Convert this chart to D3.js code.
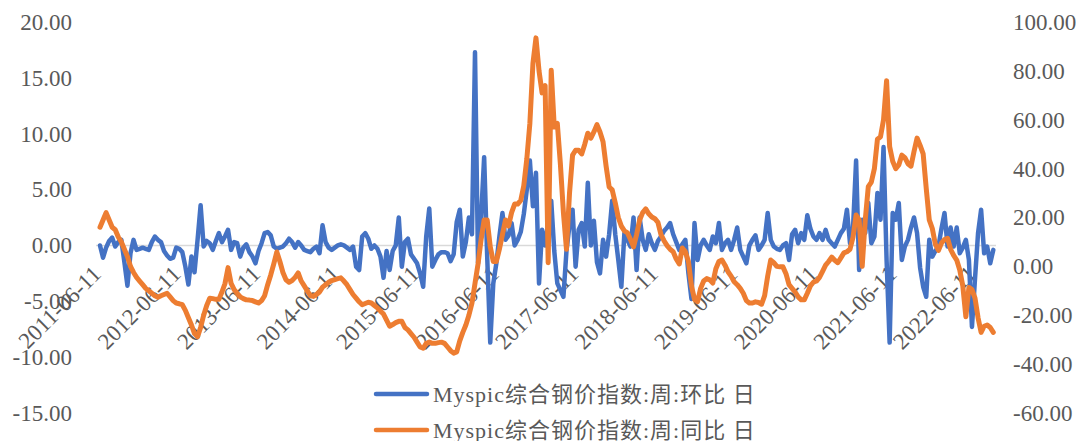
<!DOCTYPE html>
<html>
<head>
<meta charset="utf-8">
<title>Myspic综合钢价指数</title>
<script src="https://d3js.org/d3.v7.min.js"></script>
<style>
  body { margin: 0; background: #fff; }
  text { font-family: "Liberation Serif", "Noto Sans CJK SC", serif; fill: #595959; }
</style>
</head>
<body>
<script>
// Myspic综合钢价指数:周:环比 (left axis), biweekly readings from 2011-06-11
const weekChange = [
  0, -1.1, -0.2, 0.4, 0.7, -0.1, 0.3, 0.5, -1.5, -3.6,
  -0.7, 0.5, -0.4, -0.3, -0.2, -0.3, -0.4, 0.3, 0.8, 0.5,
  0.3, -0.5, -0.9, -1.2, -1.1, -0.2, -0.3, -0.6, -1.9, -3.5,
  -1, -2.4, 0.5, 3.6, -0.1, 0.4, 0.2, -0.4, 0.4, 1.1,
  0.3, 0.8, 1.4, -0.4, 0.3, 0.2, -1, -0.2, 0.1, -0.6,
  -1, -1.6, -0.5, 0.2, 1.1, 1.2, 0.9, -0.1, -0.3, -0.2,
  -0.1, 0.2, 0.6, 0.3, -0.2, 0.3, 0, -0.4, -0.5, -0.6,
  -0.3, -0.1, -0.7, 1.8, 0.3, -0.2, -0.4, -0.2, 0, 0.1,
  0, -0.2, -0.4, -0.1, -1.9, -2.2, 0.8, 1.1, 0.6, -0.3,
  0, -0.3, -1, -2.9, -0.5, -2.2, -0.5, 0, 2.5, -1.9,
  0.3, 0.6, -0.8, -1.2, -1.6, -2.5, -3.7, 0.8, 3.3, -1.9,
  -1.3, -0.8, -0.6, -0.6, -0.7, -1.4, -0.8, 2.1, 3.2, -1,
  0.3, 2.5, 1, 17.3, -1.6, 2.5, 7.9, -1, -8.7, -3.4,
  -1.6, 0.8, 2.9, 0.5, 0.9, 2, 0, 0.5, 1.2, 2.8,
  5, 7.6, 3.5, 6.5, -3.4, 1.4, 0, 2, 4, -0.5,
  -3.4, -4, -4.6, -0.5, 1.8, 3.2, -1.9, 1.4, 2, -0.1,
  5.6, 0, 2.2, -1.5, -2.5, 0.5, -1, 1, 4, 1,
  -1.3, -3.7, 1.1, 0.5, -0.1, 2.5, -2.2, 2.5, 0.5, -0.4,
  1, 0.2, -0.4, 0.4, 0.8, 1.3, 1.6, 2, 1, 0.3,
  -0.4, 0.1, 0.5, -2.5, -4.8, 2, -1.3, 0, 0.5, 0,
  -0.4, 0.8, 0.2, 2, -0.4, 0.2, 0.5, -0.4, 0.5, 1.6,
  -0.4, -1, -1.6, 0, 0.5, 0.9, -0.4, 0, 0.5, 2.9,
  0.5, -0.1, -0.3, -0.4, 0, 0.2, -1.3, 1, 1.4, 0.2,
  1.1, 0.5, 2.7, 1.5, 0.8, 0.5, 1.1, 0.5, 1.4, 0.5,
  0.2, -0.1, 0.5, 1.1, 1.5, 3.2, 0.2, 1.6, 7.6, -2.2,
  2.3, 1.1, 3.8, 0.2, 0.8, 4.7, 2.3, 8.8, -1.3, -8.7,
  2.9, 2.3, 3.8, -1.3, -0.1, 0.5, 1.6, 2.5, 1.1, -2,
  -3.7, -4.6, 0.5, -1, -0.5, -0.1, 1.5, 2.9, -0.1, 1.6,
  -0.1, 1.6, -0.7, -0.2, 0.5, -1.3, -7.3, -3, 1.1, 3.2,
  -0.7, -0.1, -1.6, -0.4
];

// Myspic综合钢价指数:周:同比 (right axis)
const yearChange = [
  16, 19, 22, 19, 16, 15, 12, 10, 7, 4,
  0, -2.5, -4.5, -6, -7.5, -9, -10, -11, -12, -12.6,
  -12, -11.5, -11, -12.5, -14, -15, -15.3, -15.7, -18, -21,
  -24, -27.5, -28.8, -25, -20, -16, -13, -13.2, -13.5, -13.5,
  -10.5, -7, -0.5, -7, -9.5, -11, -12.5, -13.2, -13.7, -13.8,
  -14, -14.5, -15, -14, -12, -7.5, -3.5, 1, 5.9, 2,
  -2.5, -5.5, -6.5, -5.8, -4.5, -2.7, -6, -8, -10, -12,
  -12.3, -11.5, -10.5, -8.5, -7.5, -6.5, -5.8, -5.4, -5, -4.7,
  -6, -7.5, -9.5, -11.5, -13, -14.5, -15.7, -15.2, -14.7, -15,
  -16, -17, -18.3, -19.5, -22, -24.5, -23.8, -23, -22.5, -22.5,
  -25, -26, -27.5, -29, -31, -33, -33.5, -31.5, -31, -31.5,
  -31.5, -31.2, -31, -31.5, -33, -34.5, -35.5, -35, -30.5, -27,
  -24, -20, -15, -7, 1, 11, 19, 19, 8, 2,
  2, 7, 13, 19, 16.5, 22, 25.5, 25.5, 27, 33,
  44, 58.6, 83, 93.5, 80, 71, 74, 1.5, 80.3, 57,
  58.5, 42, 22, 7, 30, 45.5, 47.5, 47.5, 46, 50,
  54.5, 52.5, 55, 58, 55, 51, 41, 32.5, 31.3, 26,
  20, 16.5, 14.5, 13.7, 11, 8, 13, 19, 22, 23.5,
  21.5, 20.2, 19.5, 18, 13, 10.5, 8.5, 7, 6, 3,
  1, 7.5, 6, 2, -8, -13.5, -14.5, -9, -6, -5,
  -5.5, -6.8, -1, 2, 2.6, 0.5, -2.2, -4, -6.3, -7.5,
  -9, -11, -14, -15, -15, -14.5, -14.8, -15.5, -12, -4,
  2.6, 1.5, 0, -0.2, -0.2, -3, -7.5, -9, -10.5, -12.5,
  -13.7, -13.7, -11, -8, -6.5, -6, -4.5, -2, 0.5, 2,
  3.8, 2.5, 1.5, 3.5, 5.5, 6, 7, 12, 21, 19,
  0, 19, 32.6, 34.5, 40, 52, 53, 60, 76, 49,
  43, 40, 41.5, 45.5, 44.5, 42, 41, 47, 52.5, 49.5,
  46, 32, 19, 15.5, 9, 6.5, 9.5, 11, 11.5, 7,
  4.5, 2.6, -1.5, -8, -20.6, -8.6, -9.5, -13, -21, -27,
  -24.5, -24, -25, -27
];

const tickLabels = ["2011-06-11", "2012-06-11", "2013-06-11", "2014-06-11", "2015-06-11", "2016-06-11",
  "2017-06-11", "2018-06-11", "2019-06-11", "2020-06-11", "2021-06-11", "2022-06-11"];
const leftTicks = [20, 15, 10, 5, 0, -5, -10, -15];
const rightTicks = [100, 80, 60, 40, 20, 0, -20, -40, -60];
const seriesNames = ["Myspic综合钢价指数:周:环比 日", "Myspic综合钢价指数:周:同比 日"];

const parse = d3.timeParse("%Y-%m-%d");
const startDate = parse("2011-06-11");
const dates = weekChange.map((_, i) => d3.timeDay.offset(startDate, 14 * i));

const svgWidth = 1081, svgHeight = 441;
const svg = d3.select("body").append("svg")
  .attr("width", svgWidth)
  .attr("height", svgHeight);

const x = d3.scaleTime()
  .domain([parse("2011-06-11"), parse("2022-06-11")])
  .range([100, 975]);
const yLeft = d3.scaleLinear().domain([-15, 20]).range([413, 22]);
const yRight = d3.scaleLinear().domain([-60, 100]).range([413, 22]);

// zero line
svg.append("line")
  .attr("x1", 96).attr("x2", 996)
  .attr("y1", yLeft(0)).attr("y2", yLeft(0))
  .attr("stroke", "#d9d9d9")
  .attr("stroke-width", 1.5);

// left axis
const gl = svg.append("g")
  .attr("transform", "translate(72,0)")
  .call(d3.axisLeft(yLeft).tickValues(leftTicks).tickSize(0).tickPadding(0).tickFormat(d => d.toFixed(2)));
gl.select(".domain").remove();
gl.selectAll("text").style("font-size", "23px").attr("fill", "#595959");

// right axis
const gr = svg.append("g")
  .attr("transform", "translate(1013,0)")
  .call(d3.axisRight(yRight).tickValues(rightTicks).tickSize(0).tickPadding(0).tickFormat(d => d.toFixed(2)));
gr.select(".domain").remove();
gr.selectAll("text").style("font-size", "23px").attr("fill", "#595959");

// x axis with rotated labels
const gx = svg.append("g")
  .attr("transform", `translate(0,${yLeft(0)})`)
  .call(d3.axisBottom(x).tickValues(tickLabels.map(parse)).tickSize(0).tickFormat(d3.timeFormat("%Y-%m-%d")));
gx.select(".domain").remove();
gx.selectAll("text")
  .style("font-size", "23px")
  .attr("fill", "#595959")
  .attr("text-anchor", "end")
  .attr("dy", null)
  .attr("y", 0)
  .attr("transform", "translate(2,30) rotate(-45)");

const lineL = d3.line().x((d, i) => x(dates[i])).y(d => yLeft(d));
const lineR = d3.line().x((d, i) => x(dates[i])).y(d => yRight(d));

svg.append("path")
  .datum(weekChange)
  .attr("d", lineL)
  .attr("fill", "none")
  .attr("stroke", "#4472C4")
  .attr("stroke-width", 4.5)
  .attr("stroke-linejoin", "round")
  .attr("stroke-linecap", "round");

svg.append("path")
  .datum(yearChange)
  .attr("d", lineR)
  .attr("fill", "none")
  .attr("stroke", "#ED7D31")
  .attr("stroke-width", 5)
  .attr("stroke-linejoin", "round")
  .attr("stroke-linecap", "round");

// legend
const colors = ["#4472C4", "#ED7D31"];
const legend = svg.append("g");
seriesNames.forEach((name, i) => {
  const ly = 394 + i * 36;
  legend.append("line")
    .attr("x1", 376).attr("x2", 427)
    .attr("y1", ly).attr("y2", ly)
    .attr("stroke", colors[i])
    .attr("stroke-width", 4.5)
    .attr("stroke-linecap", "round");
  legend.append("text")
    .attr("x", 433).attr("y", ly + 8)
    .style("font-size", "22px")
    .style("letter-spacing", "1px")
    .attr("fill", "#595959")
    .text(name);
});
</script>
</body>
</html>
